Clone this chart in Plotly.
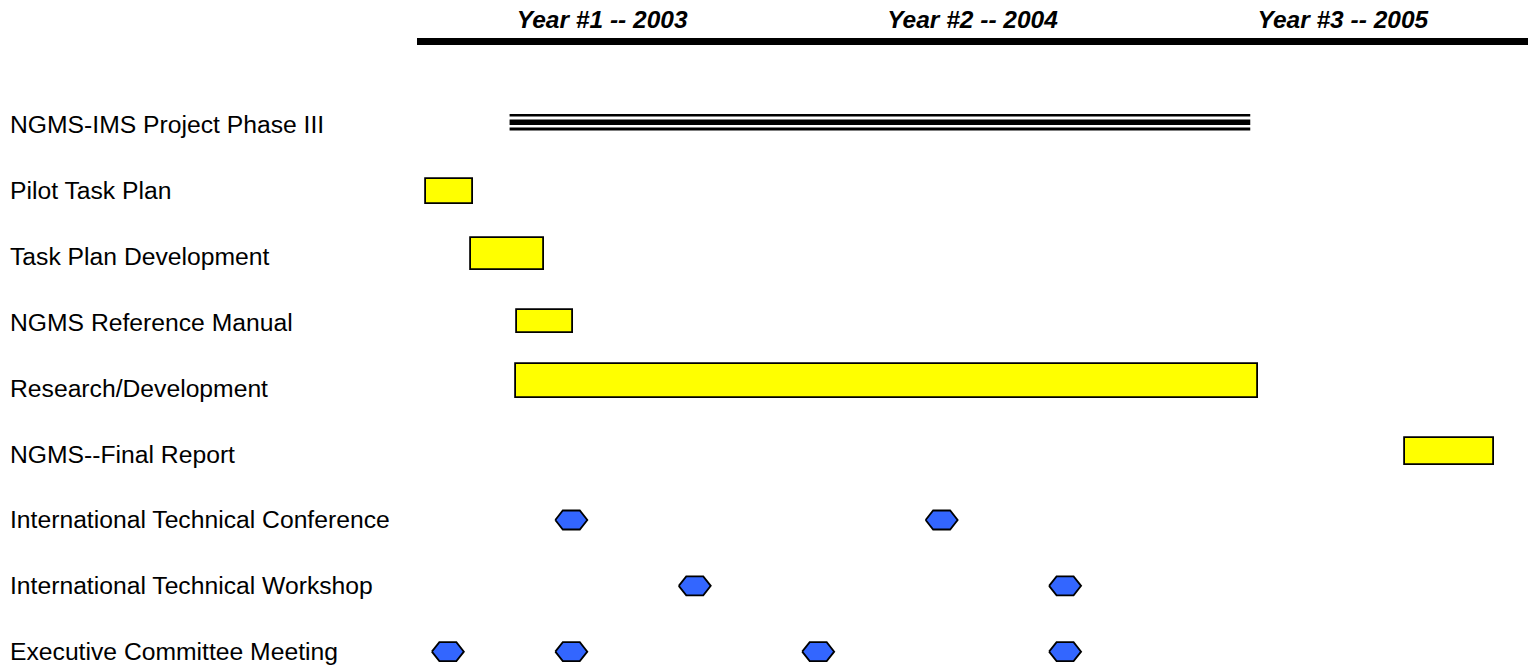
import plotly.graph_objects as go

# Schedule rows, top to bottom
TASKS = [
    "NGMS-IMS Project Phase III",
    "Pilot Task Plan",
    "Task Plan Development",
    "NGMS Reference Manual",
    "Research/Development",
    "NGMS--Final Report",
    "International Technical Conference",
    "International Technical Workshop",
    "Executive Committee Meeting",
]

# Time axis in months counted from January 2003
YEAR_LABELS = ["Year #1 -- 2003", "Year #2 -- 2004", "Year #3 -- 2005"]
YEAR_MID_MONTHS = [6, 18, 30]

# Overall project phase (drawn as a triple rule)
PHASE_TASK = "NGMS-IMS Project Phase III"
PHASE_START = 3.0
PHASE_END = 27.0

# Activity bars
BAR_TASKS = [
    "Pilot Task Plan",
    "Task Plan Development",
    "NGMS Reference Manual",
    "Research/Development",
    "NGMS--Final Report",
]
BAR_START = [0.3, 1.75, 3.25, 3.2, 32.0]
BAR_END = [1.8, 4.1, 5.05, 27.25, 34.9]

# Milestone events (month of each meeting)
CONFERENCE_MONTHS = [5, 17]
WORKSHOP_MONTHS = [9, 21]
EXECUTIVE_MONTHS = [1, 5, 13, 21]

# ---- styling ----
W, H = 1528, 666
FONT = "Arial, Liberation Sans, sans-serif"
BAR_THICKNESS_PX = [25, 32, 23, 34, 27]
BAR_NUDGE_PX = [1, -3, -1, -7, -3]
X_RANGE = [0, 36]
Y_RANGE = [8.218, -1.215]
TOP = 45
X_DOMAIN_START = 417 / W

px_per_month = (W - 417) / (X_RANGE[1] - X_RANGE[0])
px_per_row = (H - TOP) / (Y_RANGE[0] - Y_RANGE[1])


def row(name):
    return TASKS.index(name)


fig = go.Figure()

# Triple rule for the project phase (thin / thick / thin)
r = row(PHASE_TASK)
for off_px, lw in [(-9.7, 2.6), (-2.8, 5.5), (4.0, 3.0)]:
    yy = r + off_px / px_per_row
    fig.add_trace(go.Scatter(
        x=[PHASE_START, PHASE_END], y=[yy, yy], mode="lines",
        line=dict(color="black", width=lw), hoverinfo="skip", showlegend=False,
    ))

# Yellow activity bars
widths = [t / px_per_row for t in BAR_THICKNESS_PX]
offsets = [-w / 2 + n / px_per_row for w, n in zip(widths, BAR_NUDGE_PX)]
fig.add_trace(go.Bar(
    orientation="h",
    y=[row(t) for t in BAR_TASKS],
    base=BAR_START,
    x=[e - s for s, e in zip(BAR_START, BAR_END)],
    width=widths,
    offset=offsets,
    marker=dict(color="#FFFF00", line=dict(color="black", width=1.8)),
    hoverinfo="skip", showlegend=False,
))

# Blue hexagon milestones, stretched horizontally
hx_outer = 16 / px_per_month
hx_inner = 8.5 / px_per_month
hy = 9.5 / px_per_row
xs, ys = [], []
for name, months in [
    ("International Technical Conference", CONFERENCE_MONTHS),
    ("International Technical Workshop", WORKSHOP_MONTHS),
    ("Executive Committee Meeting", EXECUTIVE_MONTHS),
]:
    ry = row(name)
    for m in months:
        xs += [m - hx_outer, m - hx_inner, m + hx_inner, m + hx_outer,
               m + hx_inner, m - hx_inner, m - hx_outer, None]
        ys += [ry, ry - hy, ry - hy, ry, ry + hy, ry + hy, ry, None]
fig.add_trace(go.Scatter(
    x=xs, y=ys, mode="lines", fill="toself", fillcolor="#3366FF",
    line=dict(color="black", width=1.8), hoverinfo="skip", showlegend=False,
))

# Row labels on the left
for i, t in enumerate(TASKS):
    fig.add_annotation(
        x=8 / W, xref="paper", y=i, yref="y", text=t, showarrow=False,
        xanchor="left", yanchor="middle",
        font=dict(family=FONT, size=24.7, color="black"),
    )

fig.update_xaxes(
    domain=[X_DOMAIN_START, 1], range=X_RANGE, side="top",
    showline=True, linecolor="black", linewidth=7,
    showgrid=False, zeroline=False,
    tickmode="array", tickvals=YEAR_MID_MONTHS, ticktext=YEAR_LABELS,
    ticks="",
    tickfont=dict(family=FONT, size=24.5, color="black", weight="bold", style="italic"),
)
fig.update_yaxes(
    range=Y_RANGE, showticklabels=False, showgrid=False, zeroline=False,
    showline=False,
)
fig.update_layout(
    width=W, height=H,
    margin=dict(l=0, r=0, t=TOP, b=0),
    plot_bgcolor="white", paper_bgcolor="white",
    bargap=0,
)

fig.write_html("out.html", config={"displayModeBar": False})
